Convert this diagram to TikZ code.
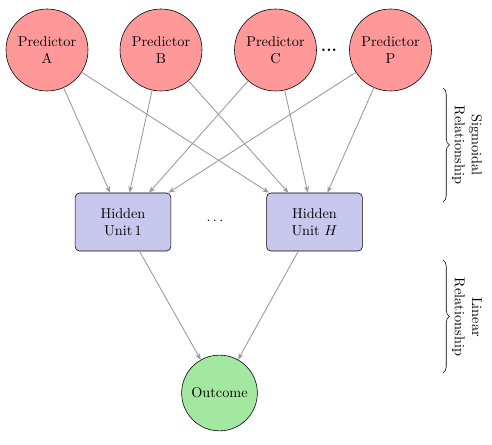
\documentclass[tikz,border=0pt]{standalone}
\usetikzlibrary{arrows.meta,decorations.pathreplacing}
\definecolor{predred}{RGB}{255,153,153}
\definecolor{hidblue}{RGB}{200,200,238}
\definecolor{outgreen}{RGB}{163,232,160}
\begin{document}
\begin{tikzpicture}[x=0.7pt,y=-0.7pt,
  pred/.style={circle,draw=black,thin,fill=predred,minimum size=57.4pt,inner sep=0pt,align=center},
  hid/.style={rectangle,rounded corners=3pt,draw=black,thin,fill=hidblue,minimum width=67pt,minimum height=40.6pt,inner sep=0pt,align=center},
  outc/.style={circle,draw=black,thin,fill=outgreen,minimum size=53pt,inner sep=0pt,align=center},
  conn/.style={draw=black!40,line width=0.6pt,-{Stealth[length=4.5pt,width=3.5pt]}},
  bracestyle/.style={draw,thin,decorate,decoration={brace,amplitude=4.5pt}},
  rel/.style={rotate=-90,align=center,inner sep=0pt}]
\useasboundingbox (0,0) rectangle (492,445);
\node[pred] (A) at (47,50) {Predictor\\A};
\node[pred] (B) at (161,50) {Predictor\\B};
\node[pred] (C) at (275.5,50) {Predictor\\C};
\node[pred] (P) at (390.5,50) {Predictor\\P};
\node[inner sep=0pt] (d1) at (329,50) {\large\bfseries ...};
\node[inner sep=0pt] (d2) at (215,221) {$\cdots$};
\node[hid] (H1) at (123,222) {Hidden\\Unit\,1};
\node[hid] (HH) at (314.5,222) {Hidden\\Unit $H$};
\node[outc] (O) at (219.5,393) {Outcome};
\foreach \s in {A,B,C,P}{
  \draw[conn] (\s) -- (H1);
  \draw[conn] (\s) -- (HH);
}
\draw[conn] (H1) -- (O);
\draw[conn] (HH) -- (O);
\coordinate (b1s) at (443,88);
\coordinate (b1e) at (443,202);
\coordinate (b2s) at (443,260);
\coordinate (b2e) at (443,373);
\draw[bracestyle] (b1s) -- (b1e);
\draw[bracestyle] (b2s) -- (b2e);
\node[rel] (t1) at (467,145) {Sigmoidal\\Relationship};
\node[rel] (t2) at (467,317) {Linear\\Relationship};
\end{tikzpicture}
\end{document}
